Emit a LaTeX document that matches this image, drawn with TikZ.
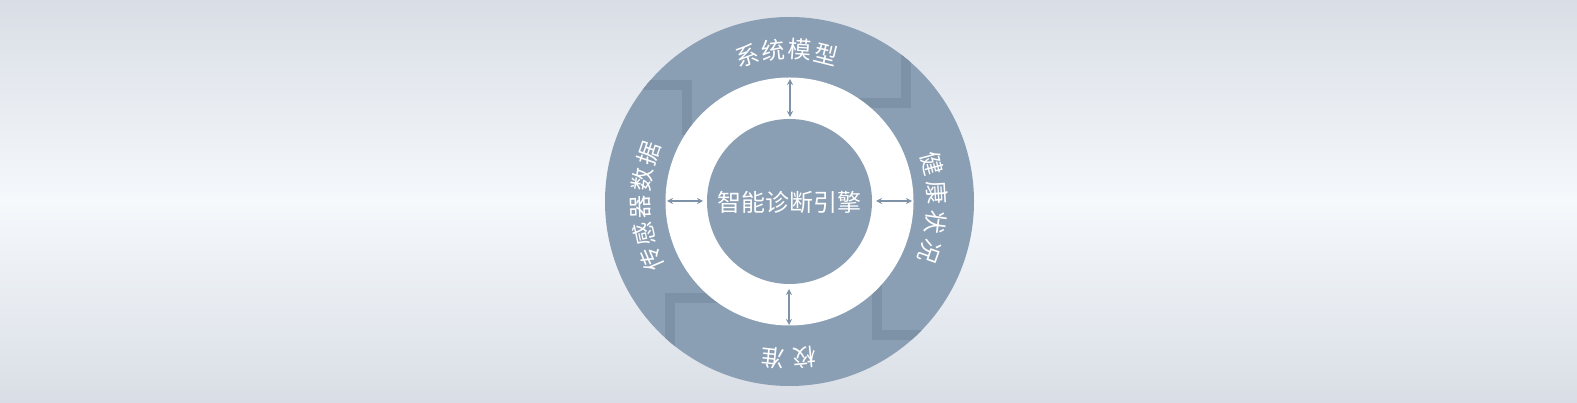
\documentclass[tikz,border=0pt]{standalone}
\usepackage{fontspec}
\newfontfamily\cjk{Noto Sans CJK SC}
\usetikzlibrary{arrows.meta,calc}
\definecolor{bgedge}{HTML}{D9DEE6}
\definecolor{bgmid}{HTML}{F5F9FC}
\definecolor{ringblue}{HTML}{8A9EB4}
\definecolor{chev}{HTML}{7D91A7}
\definecolor{arrowc}{HTML}{7F93A8}
\begin{document}
\begin{tikzpicture}[x=1pt,y=1pt,
  lbl/.style={font=\cjk\fontsize{23.5}{23.5}\selectfont, text=white, inner sep=0pt},
  dbl/.style={draw=arrowc, line width=1.5pt, {Stealth[length=6pt,width=6pt]}-{Stealth[length=6pt,width=6pt]}},
  chevron/.style={draw=chev, line width=10pt, miter limit=10}]
\useasboundingbox (0,0) rectangle (1577,403);
\shade[top color=bgedge,bottom color=bgedge,middle color=bgmid] (0,0) rectangle (1577,403);
\coordinate (c) at (789.5,201.5);
\fill[ringblue] (c) circle[radius=184.5pt];
\begin{scope}
  \clip (c) circle[radius=184.5pt];
  \draw[chevron] (630,318) -- (687,318) -- (687,268);
  \draw[chevron] (906,358) -- (906,300) -- (855,300);
  \draw[chevron] (670,48) -- (670,105) -- (725,105);
  \draw[chevron] (877,123) -- (877,68) -- (935,68);
\end{scope}
\fill[white] (c) circle[radius=124pt];
\fill[ringblue] (c) circle[radius=82.5pt];
% arrows
\coordinate (t1) at (790,324); \coordinate (t2) at (790,286);
\coordinate (l1) at (667,202); \coordinate (l2) at (703,202);
\coordinate (r1) at (876,202); \coordinate (r2) at (912,202);
\coordinate (b1) at (789,114); \coordinate (b2) at (789,78);
\draw[dbl] (t1) -- (t2);
\draw[dbl] (l1) -- (l2);
\draw[dbl] (r1) -- (r2);
\draw[dbl] (b1) -- (b2);
% center
\node[lbl, font=\cjk\fontsize{24}{24}\selectfont] (engine) at (789.5,200.5) {智能诊断引擎};
% ring labels
\foreach \ch/\a [count=\i] in {系/106,统/96,模/86,型/76}
  \node[lbl, rotate=\a-90] (top\i) at ($(c)+(\a:152)$) {\ch};
\foreach \ch/\a [count=\i] in {健/15,康/3.5,状/-8,况/-19.5}
  \node[lbl, rotate=\a-90] (right\i) at ($(c)+(\a:148)$) {\ch};
\foreach \ch/\a [count=\i] in {传/202.8,感/192.4,器/182,数/171.6,据/161.2}
  \node[lbl, rotate=\a-90] (left\i) at ($(c)+(\a:149)$) {\ch};
\foreach \ch/\a [count=\i] in {校/-84.5,准/-96}
  \node[lbl, rotate=\a-90] (bot\i) at ($(c)+(\a:157)$) {\ch};
\end{tikzpicture}
\end{document}
